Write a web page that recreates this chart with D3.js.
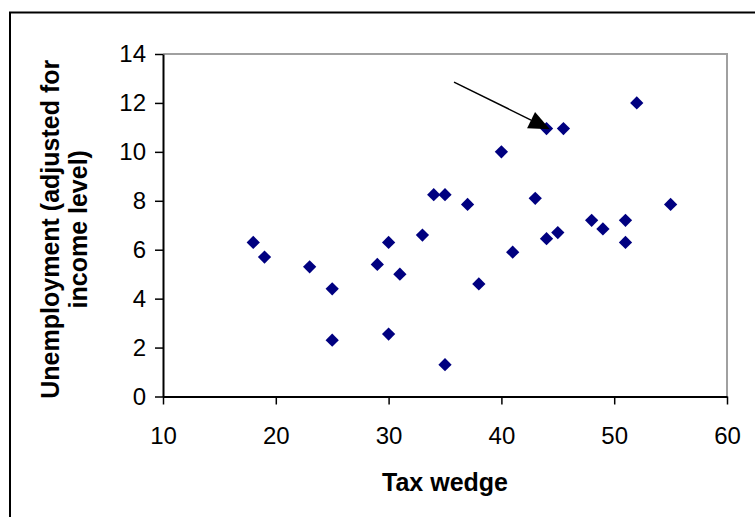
<!DOCTYPE html>
<html>
<head>
<meta charset="utf-8">
<script src="https://cdn.jsdelivr.net/npm/d3@7.9.0/dist/d3.min.js"></script>
<style>
  body { margin: 0; background: #fff; }
  svg { display: block; font-family: Arial, "Liberation Sans", sans-serif; }
</style>
</head>
<body>
<svg id="chart" width="755" height="517"></svg>
<script>
// Tax wedge (x) vs unemployment adjusted for income level (y)
const taxWedge = [18, 19, 23, 25, 25, 29, 30, 31, 30, 33, 34, 35, 35, 37,
  38, 40, 41, 43, 44, 45.5, 44, 45, 48, 49, 51, 51, 52, 55];
const unemployment = [6.3, 5.7, 5.3, 4.4, 2.3, 5.4, 6.3, 5.0, 2.55, 6.6, 8.25, 8.25, 1.3, 7.85,
  4.6, 10.0, 5.9, 8.1, 10.95, 10.95, 6.45, 6.7, 7.2, 6.85, 7.2, 6.3, 12.0, 7.85];
const xTicks = [10, 20, 30, 40, 50, 60];
const yTicks = [0, 2, 4, 6, 8, 10, 12, 14];
// arrow annotation, from -> to, in data units
const arrowFrom = [35.8, 12.85];
const arrowTo = [44.3, 10.92];

const svg = d3.select('#chart');
const m = { left: 163, right: 727, top: 54, bottom: 396.5 };

const x = d3.scaleLinear().domain([10, 60]).range([m.left, m.right]);
const y = d3.scaleLinear().domain([0, 14]).range([m.bottom, m.top]);

// outer chart border (runs off the right and bottom)
svg.append('rect')
  .attr('x', 10).attr('y', 12.5)
  .attr('width', 800).attr('height', 600)
  .attr('fill', 'none').attr('stroke', '#000').attr('stroke-width', 2);

// plot area frame (grey top and right)
svg.append('path')
  .attr('d', `M${m.left},${m.top}H${m.right}V${m.bottom}`)
  .attr('fill', 'none').attr('stroke', '#a0a0a0').attr('stroke-width', 2);

const xAxis = svg.append('g')
  .attr('transform', `translate(0,${m.bottom})`)
  .call(d3.axisBottom(x).tickValues(xTicks).tickSize(8).tickPadding(22).tickSizeOuter(0));

const yAxis = svg.append('g')
  .attr('transform', `translate(${m.left},0)`)
  .call(d3.axisLeft(y).tickValues(yTicks).tickSize(8).tickPadding(9).tickSizeOuter(0));

[xAxis, yAxis].forEach((g) => {
  g.select('.domain').attr('stroke', '#000').attr('stroke-width', 2);
  g.selectAll('.tick line').attr('stroke', '#000').attr('stroke-width', 1.5);
  g.selectAll('.tick text')
    .attr('fill', '#000')
    .style('font-size', '24px')
    .style('font-family', 'Arial, "Liberation Sans", sans-serif');
});
xAxis.selectAll('.tick text').attr('dy', '0.71em');

// points
const diamond = d3.symbol(d3.symbolSquare, 88);
svg.append('g')
  .selectAll('path')
  .data(taxWedge.map((d, i) => [d, unemployment[i]]))
  .join('path')
  .attr('d', diamond)
  .attr('transform', (d) => `translate(${x(d[0])},${y(d[1])}) rotate(45)`)
  .attr('fill', '#000080');

// arrow annotation
const x1 = x(arrowFrom[0]), y1 = y(arrowFrom[1]);
const x2 = x(arrowTo[0]), y2 = y(arrowTo[1]);
const ang = Math.atan2(y2 - y1, x2 - x1);
const headLen = 21, headW = 9;
const bx = x2 - headLen * Math.cos(ang), by = y2 - headLen * Math.sin(ang);
svg.append('line')
  .attr('x1', x1).attr('y1', y1).attr('x2', bx).attr('y2', by)
  .attr('stroke', '#000').attr('stroke-width', 1.5);
svg.append('path')
  .attr('d', `M${x2},${y2}L${bx + headW * Math.sin(ang)},${by - headW * Math.cos(ang)}` +
    `L${bx - headW * Math.sin(ang)},${by + headW * Math.cos(ang)}Z`)
  .attr('fill', '#000');

// axis titles
svg.append('text')
  .attr('x', 445).attr('y', 491)
  .attr('text-anchor', 'middle')
  .style('font-size', '25px').style('font-weight', 'bold')
  .text('Tax wedge');

const yTitle = svg.append('text')
  .attr('transform', `translate(59,${(m.top + m.bottom) / 2 + 4}) rotate(-90)`)
  .attr('text-anchor', 'middle')
  .style('font-size', '25px').style('font-weight', 'bold');
yTitle.append('tspan').attr('x', 0).attr('dy', 0).text('Unemployment (adjusted for');
yTitle.append('tspan').attr('x', 0).attr('dy', 28).text('income level)');
</script>
</body>
</html>
